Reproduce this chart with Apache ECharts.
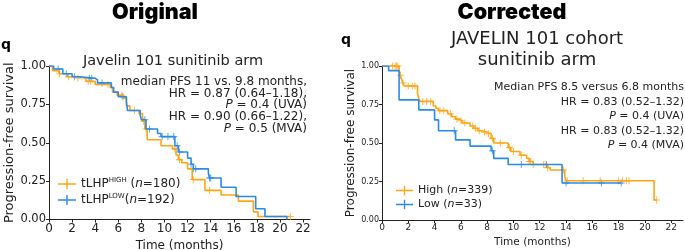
<!DOCTYPE html>
<html>
<head>
<meta charset="utf-8">
<script src="https://cdn.jsdelivr.net/npm/echarts@6/dist/echarts.min.js"></script>
<style>
  html, body { margin: 0; padding: 0; background: #fff; }
  #chart { width: 685px; height: 250px; }
</style>
</head>
<body>
<div id="chart"></div>
<script>
// ---- Original panel (tLHP high / low) ----
const origHighT = [0, 0.3, 0.9, 1.6, 2.4, 3.2, 4.0, 5.3, 5.5, 5.9, 6.4, 6.7, 7.0, 7.8, 8.1, 8.3, 8.5, 9.7, 10.7, 11.0, 11.2, 11.5, 12.0, 12.4, 13.5, 14.9, 16.4, 17.7, 18.1];
const origHighS = [1.0, 0.97, 0.95, 0.93, 0.92, 0.90, 0.88, 0.86, 0.83, 0.81, 0.79, 0.74, 0.71, 0.69, 0.64, 0.59, 0.52, 0.48, 0.46, 0.42, 0.39, 0.37, 0.33, 0.26, 0.19, 0.16, 0.12, 0.05, 0.02];
const origHighEnd = 20.9;
const origHighCens = [0.9, 1.7, 2.5, 3.4, 3.6, 5.1, 6.3, 7.4, 8.2, 8.4, 10.9, 11.3, 12.5, 13.9, 20.9];

const origLowT = [0, 0.4, 1.2, 2.0, 2.7, 4.0, 4.2, 5.4, 5.6, 6.0, 6.7, 6.8, 7.9, 8.0, 8.4, 9.4, 9.7, 10.9, 11.2, 12.0, 12.3, 12.5, 13.8, 13.9, 14.9, 16.2, 17.9, 18.7, 20.6];
const origLowS = [1.0, 0.98, 0.95, 0.93, 0.92, 0.91, 0.89, 0.86, 0.83, 0.80, 0.77, 0.71, 0.68, 0.65, 0.59, 0.56, 0.54, 0.48, 0.44, 0.40, 0.36, 0.33, 0.30, 0.27, 0.21, 0.15, 0.07, 0.02, 0.0];
const origLowEnd = 20.6;
const origLowCens = [0.8, 1.5, 2.2, 3.5, 3.7, 4.6, 6.4, 8.3, 8.7, 9.8, 10.3, 10.8, 11.1, 11.3, 12.3, 12.5, 12.7, 13.9, 14.0];

// ---- Corrected panel (High / Low) ----
const corrHighT = [0, 1.3, 1.4, 1.5, 1.6, 1.7, 2.7, 2.8, 2.9, 3.9, 4.1, 4.3, 5.0, 5.3, 5.6, 5.9, 6.1, 6.7, 7.0, 7.3, 7.6, 8.0, 8.3, 8.5, 9.6, 9.8, 10.5, 11.0, 11.2, 11.5, 12.6, 12.8, 13.9, 14.0, 20.7];
const corrHighS = [1.0, 0.97, 0.94, 0.91, 0.89, 0.87, 0.82, 0.79, 0.77, 0.74, 0.725, 0.71, 0.69, 0.67, 0.655, 0.645, 0.63, 0.61, 0.595, 0.58, 0.57, 0.56, 0.53, 0.50, 0.47, 0.445, 0.42, 0.40, 0.38, 0.36, 0.34, 0.325, 0.28, 0.255, 0.13];
const corrHighEnd = 20.9;
const corrHighCens = [0.8, 1.0, 1.1, 1.2, 1.4, 1.6, 2.0, 2.3, 2.5, 3.1, 3.4, 3.7, 4.4, 4.7, 5.2, 5.7, 6.0, 6.3, 6.9, 7.1, 7.4, 7.8, 8.1, 8.4, 9.0, 9.7, 10.0, 10.6, 11.2, 11.3, 11.5, 12.3, 12.5, 12.6, 13.8, 14.1, 15.3, 16.6, 18.0, 18.3, 18.6, 18.8, 20.9];

const corrLowT = [0, 0.5, 1.3, 2.8, 4.0, 4.3, 5.6, 6.7, 8.3, 8.5, 9.6, 13.7];
const corrLowS = [1.0, 0.97, 0.78, 0.715, 0.65, 0.58, 0.52, 0.48, 0.45, 0.40, 0.36, 0.24];
const corrLowEnd = 18.2;
const corrLowCens = [5.5, 8.4, 10.6, 12.5, 14.0, 16.7, 18.2];

const xTicks = [0, 2, 4, 6, 8, 10, 12, 14, 16, 18, 20, 22];

const ORANGE = '#FFA514';
const BLUE = '#2B8BEA';
const FONT = 'DejaVu Sans';

function stepData(t, s, end) {
  const d = t.map((v, i) => [v, s[i]]);
  if (end > t[t.length - 1]) d.push([end, s[s.length - 1]]);
  return d;
}
function censData(t, s, cens) {
  return cens.map(c => {
    let v = s[0];
    for (let i = 0; i < t.length; i++) if (t[i] <= c) v = s[i];
    return [c, v];
  });
}

const plus = 'path://M4,0h1.4v4h4v1.4h-4v4h-1.4v-4h-4v-1.4h4z';
const legIcon = 'path://M0,4.3h18v1.4h-18z M8.3,0h1.4v10h-1.4z';

function kmLine(name, t, s, end, color, idx) {
  return {
    name, type: 'line', step: 'end', xAxisIndex: idx, yAxisIndex: idx,
    data: stepData(t, s, end), showSymbol: false, symbol: 'none',
    lineStyle: { color, width: 1.6 }, itemStyle: { color }, silent: true, animation: false
  };
}
function kmCens(name, t, s, cens, color, idx) {
  return {
    name, type: 'scatter', xAxisIndex: idx, yAxisIndex: idx,
    data: censData(t, s, cens), symbol: plus, symbolSize: 7,
    itemStyle: { color, opacity: 0.75 }, silent: true, animation: false
  };
}

function xAxis(idx, max, fs, nfs, gap) {
  return {
    gridIndex: idx, type: 'value', min: 0, max,
    name: 'Time (months)', nameLocation: 'middle', nameGap: gap,
    nameTextStyle: { fontFamily: FONT, fontSize: nfs, color: '#222' },
    axisLine: { onZero: false, lineStyle: { color: '#222', width: 1 } },
    axisTick: { show: true, length: 3, customValues: xTicks, lineStyle: { color: '#222' } },
    axisLabel: { customValues: xTicks, fontFamily: FONT, fontSize: fs, color: '#222', margin: 3 },
    splitLine: { show: false }
  };
}
function yAxis(idx, fs, nfs, gap) {
  return {
    gridIndex: idx, type: 'value', min: 0, max: 1, interval: 0.25,
    name: 'Progression-free survival', nameLocation: 'middle', nameGap: gap,
    nameTextStyle: { fontFamily: FONT, fontSize: nfs, color: '#222' },
    axisLine: { show: true, lineStyle: { color: '#222', width: 1 } },
    axisTick: { show: true, length: 3, lineStyle: { color: '#222' } },
    axisLabel: { fontFamily: FONT, fontSize: fs, color: '#222', margin: 3,
      formatter: v => v.toFixed(2) },
    splitLine: { show: false }
  };
}

function txt(x, y, text, size, align) {
  return {
    type: 'text', x, y,
    style: { text, fontFamily: FONT, fontSize: size, fill: '#222',
      align: align || 'left', verticalAlign: 'middle',
      rich: { i: { fontStyle: 'italic', fontFamily: FONT, fontSize: size, fill: '#222' } } }
  };
}
function heavy(x, y, text, size, align, family) {
  return {
    type: 'text', x, y,
    style: { text, fontFamily: family, fontWeight: 900, fontSize: size, fill: '#000',
      align, verticalAlign: 'middle' }
  };
}

const chart = echarts.init(document.getElementById('chart'), null, { renderer: 'canvas' });
chart.setOption({
  backgroundColor: '#fff',
  animation: false,
  grid: [
    { left: 49, top: 66, width: 261, height: 153.5, containLabel: false, outerBoundsMode: 'none' },
    { left: 382, top: 66, width: 301, height: 154, containLabel: false, outerBoundsMode: 'none' }
  ],
  xAxis: [xAxis(0, 22.6, 12, 12, 17), xAxis(1, 22.9, 9, 10.5, 14)],
  yAxis: [yAxis(0, 11.5, 13, 30), yAxis(1, 8, 12, 23)],
  legend: [
    {
      left: 53, top: 172, orient: 'vertical', itemGap: 3, itemWidth: 18, itemHeight: 10,
      data: [{ name: 'tLHP HIGH', icon: legIcon }, { name: 'tLHP LOW', icon: legIcon }],
      selectedMode: false,
      formatter: n => n === 'tLHP HIGH' ? '{a|tLHP}{s|HIGH}{a| (}{i|n}{a|=180)}' : '{a|tLHP}{s|LOW}{a|(}{i|n}{a|=192)}',
      textStyle: { fontFamily: FONT, fontSize: 12, color: '#222',
        rich: {
          a: { fontFamily: FONT, fontSize: 12, color: '#222', lineHeight: 14 },
          i: { fontFamily: FONT, fontSize: 12, fontStyle: 'italic', color: '#222', lineHeight: 14 },
          s: { fontFamily: FONT, fontSize: 7, color: '#222', verticalAlign: 'top', lineHeight: 8 }
        } }
    },
    {
      left: 391, top: 180, orient: 'vertical', itemGap: 3, itemWidth: 17, itemHeight: 10,
      data: [{ name: 'High', icon: legIcon }, { name: 'Low', icon: legIcon }],
      selectedMode: false,
      formatter: n => n === 'High' ? '{a|High (}{i|n}{a|=339)}' : '{a|Low (}{i|n}{a|=33)}',
      textStyle: { fontFamily: FONT, fontSize: 11, color: '#222',
        rich: {
          a: { fontFamily: FONT, fontSize: 11, color: '#222', lineHeight: 12 },
          i: { fontFamily: FONT, fontSize: 11, fontStyle: 'italic', color: '#222', lineHeight: 12 }
        } }
    }
  ],
  series: [
    kmLine('tLHP HIGH', origHighT, origHighS, origHighEnd, ORANGE, 0),
    kmCens('tLHP HIGH', origHighT, origHighS, origHighCens, ORANGE, 0),
    kmLine('tLHP LOW', origLowT, origLowS, origLowEnd, BLUE, 0),
    kmCens('tLHP LOW', origLowT, origLowS, origLowCens, BLUE, 0),
    kmLine('High', corrHighT, corrHighS, corrHighEnd, ORANGE, 1),
    kmCens('High', corrHighT, corrHighS, corrHighCens, ORANGE, 1),
    kmLine('Low', corrLowT, corrLowS, corrLowEnd, BLUE, 1),
    kmCens('Low', corrLowT, corrLowS, corrLowCens, BLUE, 1)
  ],
  graphic: [
    heavy(155, 13, 'Original', 21.5, 'center', 'Inter'),
    heavy(512, 13, 'Corrected', 21.5, 'center', 'Inter'),
    heavy(1, 45, 'q', 14, 'left', FONT),
    heavy(341, 40, 'q', 14, 'left', FONT),
    txt(173, 61, 'Javelin 101 sunitinib arm', 14.5, 'center'),
    txt(537, 39, 'JAVELIN 101 cohort', 18, 'center'),
    txt(537, 60, 'sunitinib arm', 18, 'center'),
    txt(307, 81.7, 'median PFS 11 vs. 9.8 months,', 12, 'right'),
    txt(307, 93.4, 'HR = 0.87 (0.64–1.18),', 12, 'right'),
    txt(307, 105.1, '{i|P} = 0.4 (UVA)', 12, 'right'),
    txt(307, 116.8, 'HR = 0.90 (0.66–1.22),', 12, 'right'),
    txt(307, 128.5, '{i|P} = 0.5 (MVA)', 12, 'right'),
    txt(684, 87.5, 'Median PFS 8.5 versus 6.8 months', 11, 'right'),
    txt(684, 101.9, 'HR = 0.83 (0.52–1.32)', 11, 'right'),
    txt(684, 116.3, '{i|P} = 0.4 (UVA)', 11, 'right'),
    txt(684, 130.7, 'HR = 0.83 (0.52–1.32)', 11, 'right'),
    txt(684, 145.1, '{i|P} = 0.4 (MVA)', 11, 'right')
  ]
});
</script>
</body>
</html>
